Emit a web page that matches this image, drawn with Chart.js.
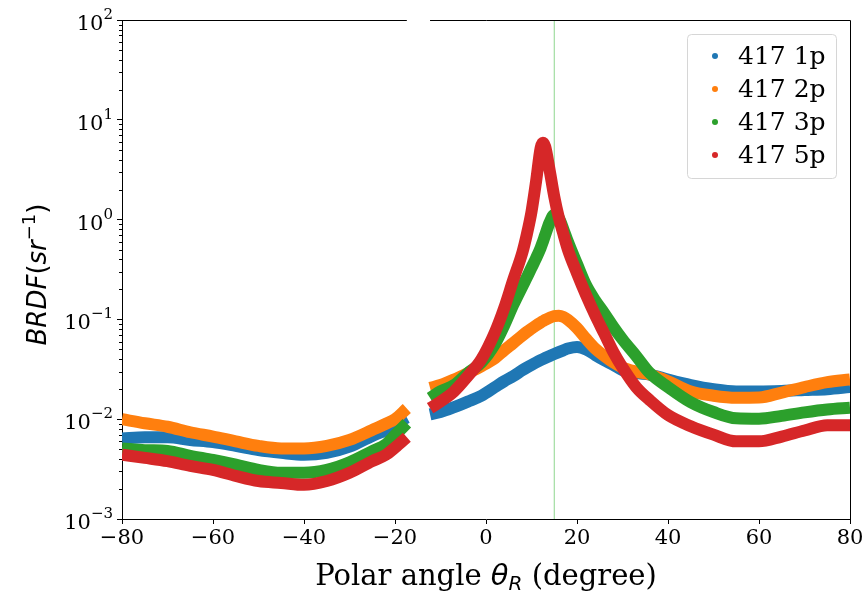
<!DOCTYPE html>
<html>
<head>
<meta charset="utf-8">
<script src="https://cdn.jsdelivr.net/npm/chart.js@4.4.1/dist/chart.umd.min.js"></script>
<style>
  html, body { margin: 0; padding: 0; background: #fff; }
  #wrap { width: 866px; height: 593px; }
</style>
</head>
<body>
<div id="wrap"><canvas id="graficaBRDF"></canvas></div>
<script>
// ---- datos ----
const seriesLabels = ['417 1p', '417 2p', '417 3p', '417 5p'];
const seriesColors = ['#1f77b4', '#ff7f0e', '#2ca02c', '#d62728'];

// tramo izquierdo (antes de la franja sin datos)
const anglesLeft = [-80, -75, -70, -65, -60, -55, -50, -45, -40, -35, -30, -25, -22, -20, -17.4];
const p1Left = [0.0064, 0.0066, 0.0066, 0.0062, 0.0059, 0.0054, 0.0049, 0.0046, 0.0044, 0.0046, 0.0053, 0.0068, 0.0078, 0.0090, 0.0104];
const p2Left = [0.0100, 0.0091, 0.0084, 0.0074, 0.0067, 0.0060, 0.0054, 0.0051, 0.0051, 0.0054, 0.0062, 0.0078, 0.0090, 0.0100, 0.0128];
const p3Left = [0.0051, 0.0049, 0.0048, 0.0043, 0.0039, 0.0035, 0.0031, 0.0029, 0.0029, 0.0031, 0.0037, 0.0048, 0.0056, 0.0069, 0.0091];
const p5Left = [0.0044, 0.0041, 0.0038, 0.0034, 0.0031, 0.0027, 0.0024, 0.0023, 0.0022, 0.0024, 0.0029, 0.0038, 0.0044, 0.0052, 0.0066];

// tramo derecho
const anglesRight = [-12.3, -10, -7, -4, -1, 2, 4, 6, 8, 9, 10, 11, 12, 12.5, 13, 14, 15, 16, 17, 18, 20, 22, 24, 26, 28, 30, 33, 36, 40, 45, 50, 55, 60, 65, 70, 75, 80];
const p1Right = [0.0112, 0.0118, 0.0132, 0.015, 0.0172, 0.021, 0.024, 0.027, 0.031, 0.033, 0.035, 0.037, 0.039, 0.040, 0.041, 0.043, 0.045, 0.047, 0.049, 0.051, 0.053, 0.050, 0.044, 0.039, 0.035, 0.031, 0.029, 0.028, 0.025, 0.022, 0.020, 0.019, 0.019, 0.0192, 0.0196, 0.020, 0.021];
const p2Right = [0.0206, 0.022, 0.025, 0.029, 0.034, 0.041, 0.049, 0.058, 0.069, 0.075, 0.081, 0.087, 0.093, 0.096, 0.099, 0.104, 0.108, 0.109, 0.106, 0.099, 0.082, 0.064, 0.051, 0.043, 0.037, 0.033, 0.030, 0.028, 0.024, 0.019, 0.0172, 0.0164, 0.0165, 0.0185, 0.021, 0.0235, 0.025];
const p3Right = [0.0163, 0.019, 0.022, 0.029, 0.037, 0.057, 0.087, 0.140, 0.215, 0.265, 0.33, 0.41, 0.52, 0.60, 0.70, 0.94, 1.12, 1.04, 0.80, 0.60, 0.36, 0.22, 0.155, 0.115, 0.084, 0.063, 0.043, 0.029, 0.021, 0.0148, 0.0118, 0.0102, 0.0101, 0.0108, 0.0117, 0.0125, 0.013];
const p5Right = [0.0129, 0.015, 0.019, 0.027, 0.040, 0.075, 0.13, 0.25, 0.47, 0.72, 1.2, 2.4, 5.2, 5.9, 5.4, 3.1, 1.7, 1.05, 0.72, 0.50, 0.29, 0.175, 0.11, 0.072, 0.047, 0.033, 0.021, 0.0155, 0.011, 0.0085, 0.0070, 0.0060, 0.0060, 0.0067, 0.0077, 0.0087, 0.0087];

const gapFrom = -17.4, gapTo = -12.3;   // franja blanca sin datos
const specularAngle = 15;              // linea vertical verde

const xTicks = [-80, -60, -40, -20, 0, 20, 40, 60, 80];
const yTicks = [1e-3, 1e-2, 1e-1, 1e0, 1e1, 1e2];
const yTickExp = ['\u22123', '\u22122', '\u22121', '0', '1', '2'];

function toPoints(left, right) {
  const pts = left.map((v, i) => ({ x: anglesLeft[i], y: v }));
  pts.push({ x: (gapFrom + gapTo) / 2, y: null });
  right.forEach((v, i) => pts.push({ x: anglesRight[i], y: v }));
  return pts;
}

const allSeries = [[p1Left, p1Right], [p2Left, p2Right], [p3Left, p3Right], [p5Left, p5Right]];

const datasets = allSeries.map((s, i) => ({
  label: seriesLabels[i],
  data: toPoints(s[0], s[1]),
  showLine: true,
  borderColor: seriesColors[i],
  backgroundColor: seriesColors[i],
  borderWidth: 12,
  borderCapStyle: 'butt',
  borderJoinStyle: 'round',
  pointRadius: 0,
  cubicInterpolationMode: 'monotone',
  spanGaps: false,
  order: 4 - i
}));

datasets.push({
  label: 'specular',
  data: [{ x: specularAngle, y: yTicks[0] }, { x: specularAngle, y: yTicks[yTicks.length - 1] }],
  showLine: true,
  borderColor: '#8fd68f',
  borderWidth: 1,
  pointRadius: 0,
  order: 10
});

const serif = '"DejaVu Serif", "Liberation Serif", serif';
const sans = '"DejaVu Sans", sans-serif';

// dibuja trozos de texto seguidos, centrados en cx
function drawPieces(ctx, parts, cx, base) {
  let total = 0;
  parts.forEach(p => { ctx.font = p.f; p.w = ctx.measureText(p.t).width; total += p.w; });
  let px = cx - total / 2;
  parts.forEach(p => { ctx.font = p.f; ctx.fillText(p.t, px, base + p.dy); px += p.w; });
}

// marco, franja, leyenda, etiquetas y titulos
const extrasPlugin = {
  id: 'extras',
  afterDraw(chart) {
    const { ctx, chartArea: a, scales: { x, y } } = chart;
    ctx.save();

    // marcas menores del eje log
    ctx.strokeStyle = '#000';
    ctx.lineWidth = 1;
    ctx.beginPath();
    for (let e = -3; e < 2; e++) {
      for (let m = 2; m <= 9; m++) {
        const py = Math.round(y.getPixelForValue(m * Math.pow(10, e))) + 0.5;
        ctx.moveTo(a.left - 3, py);
        ctx.lineTo(a.left, py);
      }
    }
    ctx.stroke();

    // bordes superior y derecho
    ctx.beginPath();
    ctx.moveTo(a.left, a.top + 0.5);
    ctx.lineTo(a.right + 0.5, a.top + 0.5);
    ctx.lineTo(a.right + 0.5, a.bottom);
    ctx.stroke();

    // franja blanca
    const g0 = x.getPixelForValue(gapFrom), g1 = x.getPixelForValue(gapTo);
    ctx.fillStyle = '#fff';
    ctx.fillRect(g0, a.top - 3, g1 - g0, 6);

    // etiquetas del eje y: 10 con exponente
    ctx.fillStyle = '#000';
    ctx.textBaseline = 'alphabetic';
    ctx.textAlign = 'left';
    yTicks.forEach((v, i) => {
      const py = y.getPixelForValue(v);
      ctx.font = '21px ' + serif;
      const wb = ctx.measureText('10').width;
      ctx.font = '15px ' + serif;
      const we = ctx.measureText(yTickExp[i]).width;
      const right = a.left - 9;
      ctx.font = '21px ' + serif;
      ctx.fillText('10', right - we - wb, py + 10);
      ctx.font = '15px ' + serif;
      ctx.fillText(yTickExp[i], right - we, py - 1);
    });

    // leyenda
    const lx = a.right - 163, ly = a.top + 14, lw = 149, lh = 144;
    ctx.beginPath();
    ctx.roundRect(lx + 0.5, ly + 0.5, lw, lh, 4);
    ctx.fillStyle = 'rgba(255,255,255,0.8)';
    ctx.fill();
    ctx.strokeStyle = '#d6d6d6';
    ctx.stroke();
    ctx.font = '25px ' + serif;
    ctx.textBaseline = 'middle';
    seriesLabels.forEach((lab, i) => {
      const ry = ly + 22 + i * 33;
      ctx.beginPath();
      ctx.arc(lx + 28, ry, 3, 0, Math.PI * 2);
      ctx.fillStyle = seriesColors[i];
      ctx.fill();
      ctx.fillStyle = '#000';
      ctx.fillText(lab, lx + 51, ry + 1);
    });

    // titulo eje x con subindice
    ctx.fillStyle = '#000';
    ctx.textBaseline = 'alphabetic';
    drawPieces(ctx, [
      { t: 'Polar angle ', f: '29px ' + serif, dy: 0 },
      { t: '\u03B8', f: 'italic 29px ' + sans, dy: 0 },
      { t: 'R', f: 'italic 20px ' + sans, dy: 5 },
      { t: ' (degree)', f: '29px ' + serif, dy: 0 }
    ], (a.left + a.right) / 2, a.bottom + 66);

    // titulo eje y
    ctx.translate(46, (a.top + a.bottom) / 2 + 5);
    ctx.rotate(-Math.PI / 2);
    drawPieces(ctx, [
      { t: 'BRDF', f: 'italic 26px ' + sans, dy: 0 },
      { t: '(', f: '26px ' + sans, dy: 0 },
      { t: 'sr', f: 'italic 26px ' + sans, dy: 0 },
      { t: '\u22121', f: '18px ' + sans, dy: -11 },
      { t: ')', f: '26px ' + sans, dy: 0 }
    ], 0, 0);

    ctx.restore();
  }
};

const ctx = document.getElementById('graficaBRDF').getContext('2d');
const grafica = new Chart(ctx, {
  type: 'scatter',
  data: { datasets: datasets },
  options: {
    responsive: true,
    maintainAspectRatio: false,
    devicePixelRatio: 1,
    animation: false,
    layout: { padding: { top: 20, right: 16, left: 0, bottom: 0 } },
    plugins: {
      legend: { display: false },
      tooltip: { enabled: false }
    },
    scales: {
      x: {
        type: 'linear',
        min: -80,
        max: 80,
        afterBuildTicks: s => { s.ticks = xTicks.map(v => ({ value: v })); },
        afterFit: s => { s.height = 74; },
        ticks: {
          color: '#000',
          font: { family: serif, size: 21 },
          padding: 2,
          maxRotation: 0,
          callback: v => String(v).replace('-', '\u2212')
        },
        grid: { drawOnChartArea: false, drawTicks: true, tickLength: 5, color: '#000' },
        border: { color: '#000', width: 1 }
      },
      y: {
        type: 'logarithmic',
        min: yTicks[0],
        max: yTicks[yTicks.length - 1],
        afterBuildTicks: s => { s.ticks = yTicks.map(v => ({ value: v })); },
        afterFit: s => { s.width = 122; },
        ticks: {
          color: '#000',
          font: { family: serif, size: 21 },
          callback: () => ''
        },
        grid: { drawOnChartArea: false, drawTicks: true, tickLength: 5, color: '#000' },
        border: { color: '#000', width: 1 }
      }
    }
  },
  plugins: [extrasPlugin]
});
</script>
</body>
</html>
